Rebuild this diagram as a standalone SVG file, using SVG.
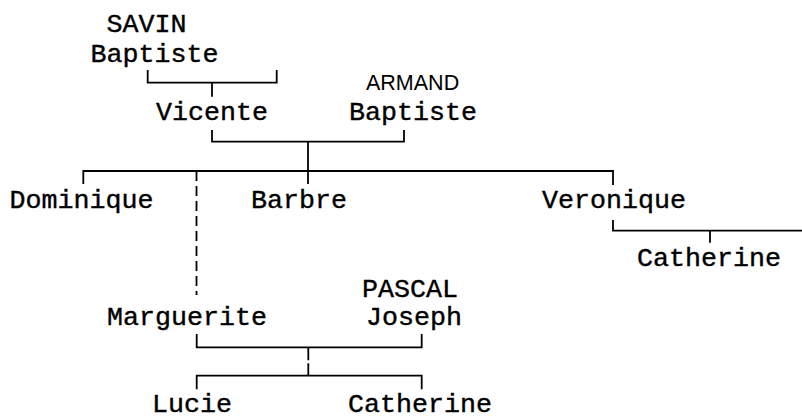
<svg xmlns="http://www.w3.org/2000/svg" width="802" height="419" viewBox="0 0 802 419">
<style>
.t{font-family:"Liberation Mono","DejaVu Sans Mono",monospace;font-size:26.67px;fill:#000;stroke:#000;stroke-width:0.4}
.s{font-family:"Liberation Sans",Arial,sans-serif;font-size:21.5px;fill:#000}
.c{stroke:#000;stroke-width:1.8;fill:none}
.d{stroke:#000;stroke-width:1.8;fill:none;stroke-dasharray:10 5}
</style>
<rect width="802" height="419" fill="#fff"/>
<g id="connectors">
<path class="c" d="M147.7 70V82.7H276.7V70M212 82.7V96.7"/>
<path class="c" d="M212 130V141.7H404V130M308 141.7V184"/>
<path class="c" d="M83.3 184V171H613V185"/>
<path class="d" d="M196.5 171V295"/>
<path class="c" d="M613 220V230.7H802M710 230.7V242.7"/>
<path class="c" d="M196.7 334V347.3H421.7V334"/>
<path class="d" d="M308.3 347.3V375.7" style="stroke-dasharray:13 3"/>
<path class="c" d="M196.7 389.3V375.7H421.7V389.3"/>
</g>
<g id="savin-baptiste"><text class="t" x="106.5" y="31.7">SAVIN</text><text class="t" x="90.5" y="62">Baptiste</text></g>
<g id="vicente"><text class="t" x="156" y="119.5">Vicente</text></g>
<g id="armand-baptiste"><text class="s" x="366" y="90">ARMAND</text><text class="t" x="349" y="119.5">Baptiste</text></g>
<g id="dominique"><text class="t" x="9.5" y="208">Dominique</text></g>
<g id="barbre"><text class="t" x="251" y="208">Barbre</text></g>
<g id="veronique"><text class="t" x="542" y="208">Veronique</text></g>
<g id="catherine-1"><text class="t" x="637" y="266">Catherine</text></g>
<g id="marguerite"><text class="t" x="107" y="325">Marguerite</text></g>
<g id="pascal-joseph"><text class="t" x="362" y="296.7">PASCAL</text><text class="t" x="366" y="325">Joseph</text></g>
<g id="lucie"><text class="t" x="152" y="411.7">Lucie</text></g>
<g id="catherine-2"><text class="t" x="348" y="411.7">Catherine</text></g>
</svg>
